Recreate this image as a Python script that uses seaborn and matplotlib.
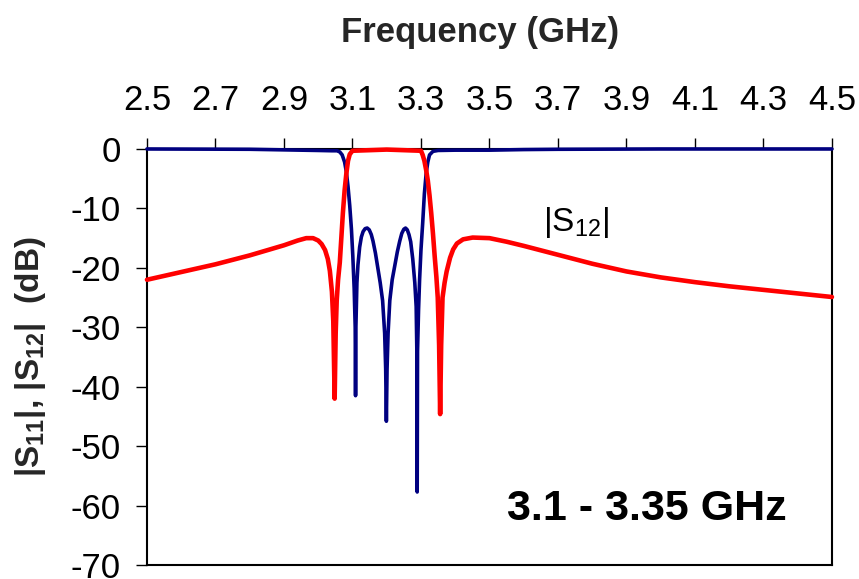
import matplotlib
matplotlib.use("Agg")
import matplotlib.pyplot as plt
import pandas as pd
import seaborn as sns

# |S12| transmission response (GHz, dB)
freq_s12 = [2.50, 2.60, 2.70, 2.80, 2.90, 2.94, 2.965, 2.985, 3.000, 3.010,
            3.020, 3.028, 3.034, 3.040, 3.044, 3.048, 3.051, 3.054, 3.058, 3.063,
            3.068, 3.072, 3.077, 3.082, 3.087, 3.092, 3.100, 3.150, 3.200, 3.250,
            3.300, 3.305, 3.310, 3.315, 3.320, 3.325, 3.330, 3.335, 3.340, 3.345,
            3.349, 3.353, 3.356, 3.359, 3.363, 3.369, 3.375, 3.385, 3.394, 3.405,
            3.423, 3.451, 3.500, 3.550, 3.600, 3.700, 3.800, 3.900, 4.000, 4.100,
            4.200, 4.300, 4.400, 4.500]
s12_db = [-22.0, -20.7, -19.4, -17.9, -16.2, -15.4, -15.0, -15.0, -15.4, -16.0,
          -17.0, -18.5, -20.5, -24.0, -29.0, -42.0, -31.0, -25.5, -22.0, -19.1,
          -14.5, -10.8, -7.0, -4.2, -2.0, -0.9, -0.3, -0.2, -0.1, -0.2,
          -0.3, -1.0, -2.0, -3.5, -5.3, -7.8, -10.8, -14.2, -18.0, -21.5,
          -25.0, -33.0, -44.6, -33.0, -25.0, -22.5, -20.6, -18.3, -16.9, -15.9,
          -15.2, -14.9, -15.0, -15.6, -16.3, -17.8, -19.3, -20.6, -21.6, -22.4,
          -23.1, -23.7, -24.3, -24.9]

# |S11| reflection response (GHz, dB)
freq_s11 = [2.50, 2.80, 2.90, 3.00, 3.04, 3.055, 3.063, 3.070, 3.077, 3.082,
            3.087, 3.092, 3.097, 3.101, 3.105, 3.108, 3.109, 3.110, 3.113, 3.116,
            3.121, 3.126, 3.131, 3.137, 3.143, 3.149, 3.155, 3.160, 3.167, 3.174,
            3.181, 3.188, 3.194, 3.197, 3.199, 3.201, 3.204, 3.209, 3.216, 3.224,
            3.231, 3.238, 3.244, 3.250, 3.255, 3.260, 3.265, 3.270, 3.276, 3.282,
            3.286, 3.288, 3.289, 3.290, 3.293, 3.296, 3.300, 3.305, 3.310, 3.315,
            3.320, 3.325, 3.335, 3.350, 3.400, 3.500, 3.600, 3.700, 4.000, 4.500]
s11_db = [0.0, -0.05, -0.15, -0.25, -0.3, -0.3, -0.5, -1.0, -2.2, -3.8,
          -6.3, -9.5, -13.5, -18.0, -23.5, -30.0, -41.5, -30.0, -22.5, -19.5,
          -16.5, -14.8, -13.9, -13.4, -13.3, -13.6, -14.4, -15.5, -17.5, -20.0,
          -22.5, -25.5, -31.0, -37.0, -45.8, -37.0, -31.0, -25.5, -22.0, -19.5,
          -17.3, -15.5, -14.2, -13.5, -13.3, -13.6, -14.4, -15.6, -18.5, -22.5,
          -26.5, -34.0, -57.7, -34.0, -27.0, -22.0, -17.0, -12.5, -7.5, -4.2,
          -2.2, -1.0, -0.4, -0.25, -0.2, -0.2, -0.1, -0.05, 0.0, 0.0]

x_ticks = [2.5, 2.7, 2.9, 3.1, 3.3, 3.5, 3.7, 3.9, 4.1, 4.3, 4.5]
y_ticks = [0, -10, -20, -30, -40, -50, -60, -70]

sns.set_theme(style="ticks")
plt.rcParams["font.family"] = ["Liberation Sans", "DejaVu Sans"]
plt.rcParams["mathtext.fontset"] = "custom"
plt.rcParams["mathtext.rm"] = "Liberation Sans"
plt.rcParams["mathtext.bf"] = "Liberation Sans:bold"
plt.rcParams["axes.unicode_minus"] = False

fig = plt.figure(figsize=(8.59, 5.79), dpi=100)
ax = fig.add_axes([0.1711, 0.0240, 0.7974, 0.7187])

s11 = pd.DataFrame({"freq": freq_s11, "db": s11_db})
s12 = pd.DataFrame({"freq": freq_s12, "db": s12_db})

sns.lineplot(data=s11, x="freq", y="db", color="#000080", linewidth=2.6,
             estimator=None, sort=False, ax=ax, clip_on=False, zorder=3)
sns.lineplot(data=s12, x="freq", y="db", color="#FF0000", linewidth=3.3,
             estimator=None, sort=False, ax=ax, clip_on=False, zorder=4)

ax.set_xlim(2.5, 4.5)
ax.set_ylim(-70, 0)
ax.xaxis.tick_top()
ax.xaxis.set_label_position("top")
ax.set_xticks(x_ticks)
ax.set_xticklabels([f"{t:.1f}" for t in x_ticks])
ax.set_yticks(y_ticks)
ax.set_yticklabels([str(t) for t in y_ticks])
ax.tick_params(axis="x", direction="out", length=8, width=1, labelsize=25,
               pad=15, colors="black")
ax.tick_params(axis="y", direction="out", length=8, width=1, labelsize=25,
               pad=11, colors="black")

ax.set_xlabel("Frequency (GHz)", fontsize=25, fontweight="bold", labelpad=30)
ax.xaxis.label.set_x(0.486)
ax.set_ylabel(r"|S$_{\mathbf{11}}$|, |S$_{\mathbf{12}}$|  (dB)", fontsize=24,
              fontweight="bold", labelpad=16)

ax.text(3.754, -12.3, r"|S$_{\mathrm{12}}$|", fontsize=24, ha="center",
        va="center", color="black")
ax.text(3.96, -60.5, "3.1 - 3.35 GHz", fontsize=31, fontweight="bold",
        ha="center", va="center", color="black")

for side in ["left", "right", "top", "bottom"]:
    ax.spines[side].set_visible(True)
    ax.spines[side].set_color("black")
    ax.spines[side].set_linewidth(1.5)

ax.grid(False)
ax.set_facecolor("white")
fig.patch.set_facecolor("white")

fig.savefig("out.png", dpi=100)
